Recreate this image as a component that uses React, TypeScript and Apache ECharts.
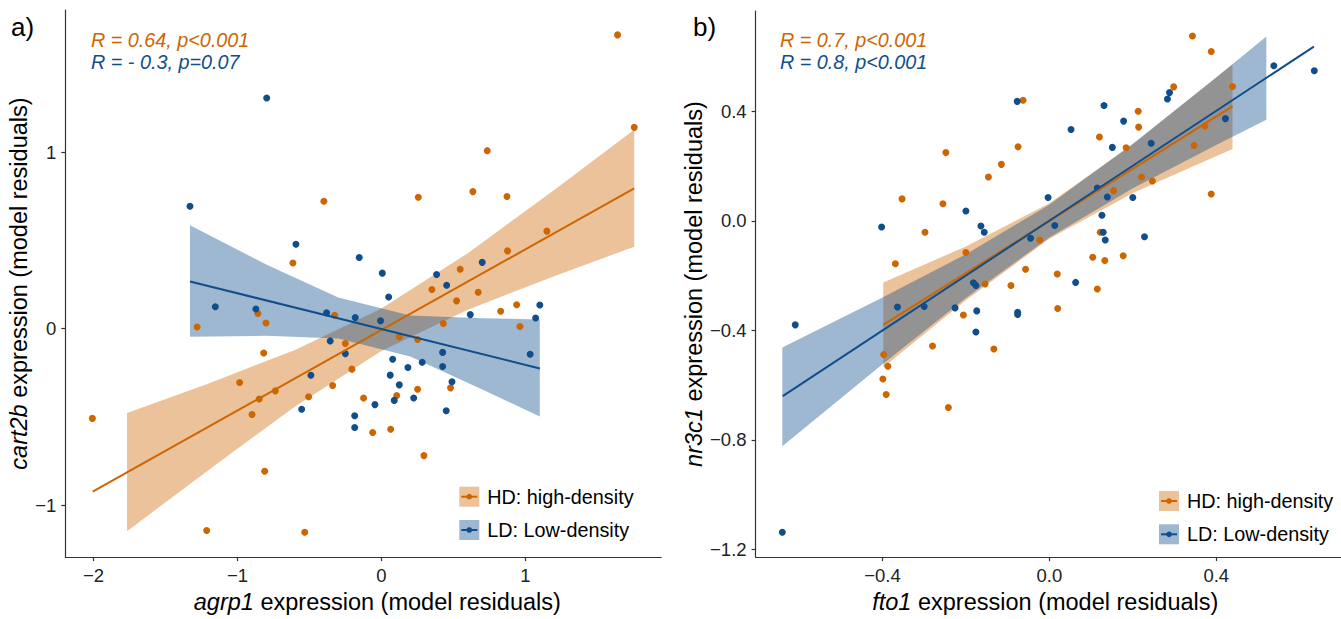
import React, { useEffect, useRef } from 'react';
import * as echarts from 'echarts';

const FONT = '"Liberation Sans", Arial, Helvetica, sans-serif';
const HD_COLOR = '#CD6600';
const LD_COLOR = '#104E8B';
const HD_FILL = 'rgba(205,102,0,0.4)';
const LD_FILL = 'rgba(16,78,139,0.4)';
const AXIS_COLOR = '#333333';
const TICK_TEXT = '#222222';

// ---------- Panel a: agrp1 vs cart2b ----------
const aHdX = [-2.008, -1.28, -1.214, -0.985, -0.899, -0.858, -0.849, -0.818, -0.811, -0.802, -0.737, -0.615, -0.533, -0.506, -0.40, -0.339, -0.325, -0.251, -0.205, -0.124, -0.061, 0.064, 0.106, 0.124, 0.251, 0.251, 0.256, 0.295, 0.351, 0.43, 0.48, 0.522, 0.547, 0.635, 0.672, 0.735, 0.828, 0.872, 0.876, 0.939, 0.962, 1.149, 1.64, 1.756];
const aHdY = [-0.508, 0.01, -1.143, -0.305, -0.486, 0.086, -0.398, -0.138, -0.808, 0.032, -0.352, 0.372, -1.153, -0.385, 0.722, -0.322, 0.076, -0.084, -0.229, -0.393, -0.588, -0.57, -0.378, -0.045, -0.061, -0.343, 0.745, -0.719, 0.222, 0.03, -0.335, 0.158, 0.337, 0.777, 0.207, 1.009, 0.099, 0.749, 0.441, 0.136, 0.013, 0.553, 1.665, 1.141];
const aLdX = [-1.33, -1.154, -0.872, -0.797, -0.594, -0.554, -0.49, -0.381, -0.356, -0.251, -0.186, -0.186, -0.182, -0.154, -0.045, -0.006, 0.006, 0.05, 0.061, 0.078, 0.089, 0.124, 0.184, 0.224, 0.283, 0.383, 0.425, 0.425, 0.45, 0.453, 0.49, 0.617, 0.70, 1.033, 1.071, 1.10];
const aLdY = [0.694, 0.125, 0.112, 1.307, 0.479, -0.456, -0.264, 0.091, -0.069, -0.141, -0.493, -0.56, 0.063, 0.404, -0.43, 0.045, 0.315, 0.18, -0.263, -0.173, -0.406, -0.318, -0.22, -0.393, -0.19, 0.307, -0.134, -0.214, -0.465, 0.246, -0.30, 0.08, 0.376, -0.145, 0.061, 0.134];

const aHdFitX = [-2.006, 1.756];
const aHdFitY = [-0.923, 0.795];
const aLdFitX = [-1.33, 1.10];
const aLdFitY = [0.268, -0.225];

const aHdBandX = [-1.767, -1.2, -0.6, 0, 0.6, 1.2, 1.756];
const aHdBandLo = [-1.147, -0.80, -0.44, -0.126, 0.108, 0.298, 0.465];
const aHdBandHi = [-0.477, -0.31, -0.12, 0.114, 0.428, 0.786, 1.127];
const aLdBandX = [-1.33, -0.8, -0.3, 0.2, 0.7, 1.10];
const aLdBandLo = [-0.046, -0.040, -0.055, -0.157, -0.344, -0.498];
const aLdBandHi = [0.586, 0.364, 0.177, 0.075, 0.060, 0.052];

const aXTicks = [-2, -1, 0, 1];
const aYTicks = [-1, 0, 1];
const aStats = ['R = 0.64, p<0.001', 'R = - 0.3, p=0.07'];

// ---------- Panel b: fto1 vs nr3c1 ----------
const bHdX = [-0.399, -0.397, -0.391, -0.387, -0.369, -0.353, -0.298, -0.28, -0.255, -0.248, -0.242, -0.206, -0.2, -0.154, -0.146, -0.133, -0.115, -0.092, -0.075, -0.063, -0.057, -0.023, 0.019, 0.02, 0.104, 0.115, 0.12, 0.122, 0.133, 0.154, 0.177, 0.184, 0.213, 0.214, 0.221, 0.247, 0.298, 0.343, 0.347, 0.373, 0.388, 0.388, 0.439];
const bHdY = [-0.578, -0.488, -0.634, -0.531, -0.157, 0.08, -0.042, -0.457, 0.062, 0.249, -0.682, -0.344, -0.116, -0.231, 0.16, -0.468, 0.206, -0.236, 0.27, 0.44, -0.177, -0.07, -0.194, -0.32, -0.133, -0.249, 0.306, -0.042, -0.145, 0.11, -0.128, 0.267, 0.40, 0.342, 0.16, 0.145, 0.489, 0.675, 0.275, 0.346, 0.618, 0.098, 0.49];
const bLdX = [-0.64, -0.609, -0.402, -0.364, -0.30, -0.226, -0.20, -0.182, -0.176, -0.176, -0.174, -0.164, -0.156, -0.077, -0.076, -0.076, -0.045, -0.003, 0.013, 0.052, 0.063, 0.115, 0.126, 0.129, 0.131, 0.134, 0.139, 0.151, 0.178, 0.20, 0.228, 0.244, 0.283, 0.288, 0.422, 0.538, 0.635];
const bLdY = [-1.137, -0.38, -0.023, -0.315, -0.313, -0.318, 0.036, -0.226, -0.236, -0.406, -0.329, -0.019, -0.042, 0.436, -0.334, -0.342, -0.064, 0.085, -0.017, 0.333, -0.225, 0.12, 0.02, -0.042, 0.421, -0.07, 0.087, 0.268, 0.364, 0.085, -0.058, 0.283, 0.445, 0.468, 0.373, 0.566, 0.548];

const bHdFitX = [-0.398, 0.439];
const bHdFitY = [-0.38, 0.418];
const bLdFitX = [-0.639, 0.634];
const bLdFitY = [-0.64, 0.636];

const bHdBandX = [-0.398, -0.2, 0, 0.2, 0.439];
const bHdBandLo = [-0.535, -0.290, -0.066, 0.101, 0.262];
const bHdBandHi = [-0.225, -0.094, 0.064, 0.279, 0.572];
const bLdBandX = [-0.64, -0.4, -0.2, 0, 0.2, 0.4, 0.52];
const bLdBandLo = [-0.823, -0.524, -0.282, -0.061, 0.119, 0.277, 0.369];
const bLdBandHi = [-0.463, -0.28, -0.122, 0.059, 0.281, 0.523, 0.673];

const bXTicks = [-0.4, 0, 0.4];
const bYTicks = [-1.2, -0.8, -0.4, 0, 0.4];
const bStats = ['R = 0.7, p<0.001', 'R = 0.8, p<0.001'];

const groupLabels = ['HD: high-density', 'LD: Low-density'];
const panelLabels = ['a)', 'b)'];

const fmt = (v: number, d: number) => {
  const s = Math.abs(v) < 1e-9 ? (0).toFixed(d) : v.toFixed(d);
  return s.replace('-', '\u2212');
};

const pairs = (xs: number[], ys: number[]) => xs.map((x, i) => [x, ys[i]]);

function scatter(idx: number, xs: number[], ys: number[], color: string) {
  return {
    type: 'scatter',
    xAxisIndex: idx,
    yAxisIndex: idx,
    data: pairs(xs, ys),
    symbol: 'circle',
    symbolSize: 7,
    itemStyle: { color, opacity: 1 },
    silent: true,
  };
}

function band(idx: number, bx: number[], lo: number[], hi: number[], fill: string) {
  return {
    type: 'custom',
    xAxisIndex: idx,
    yAxisIndex: idx,
    data: bx.map((x, i) => [x, lo[i], hi[i]]),
    encode: { x: 0, y: [1, 2] },
    silent: true,
    renderItem: (params: any, api: any) => {
      if (params.dataIndex !== 0) return { type: 'group', children: [] };
      const pts: number[][] = [];
      for (let i = 0; i < bx.length; i++) pts.push(api.coord([bx[i], hi[i]]));
      for (let i = bx.length - 1; i >= 0; i--) pts.push(api.coord([bx[i], lo[i]]));
      return { type: 'polygon', shape: { points: pts }, style: { fill, stroke: 'none' } };
    },
  };
}

function fit(idx: number, xs: number[], ys: number[], color: string) {
  return {
    type: 'line',
    xAxisIndex: idx,
    yAxisIndex: idx,
    data: pairs(xs, ys),
    showSymbol: false,
    symbol: 'none',
    lineStyle: { color, width: 2 },
    silent: true,
  };
}

function axisCommon(ticks: number[], d: number) {
  return {
    type: 'value',
    splitLine: { show: false },
    axisLine: { show: true, onZero: false, lineStyle: { color: AXIS_COLOR, width: 1.2 } },
    axisTick: { show: true, inside: false, length: 4, customValues: ticks, lineStyle: { color: AXIS_COLOR, width: 1.2 } },
    axisLabel: {
      customValues: ticks,
      formatter: (v: number) => fmt(v, d),
      color: TICK_TEXT,
      fontSize: 18.5,
      fontFamily: FONT,
      margin: 9,
    },
    nameLocation: 'middle',
  };
}

function titleStyle(padding: number[]) {
  return {
    fontSize: 23.5,
    fontFamily: FONT,
    color: '#000',
    padding,
    rich: { i: { fontSize: 23.5, fontFamily: FONT, color: '#000', fontStyle: 'italic' } },
  };
}

function legendItem(x: number, y: number, fill: string, color: string, label: string) {
  return {
    type: 'group',
    children: [
      { type: 'rect', shape: { x, y, width: 20, height: 20 }, style: { fill } },
      { type: 'line', shape: { x1: x + 2, y1: y + 10, x2: x + 18, y2: y + 10 }, style: { stroke: color, lineWidth: 2 } },
      { type: 'circle', shape: { cx: x + 10, cy: y + 10, r: 2.8 }, style: { fill: color } },
      {
        type: 'text',
        x: x + 28,
        y: y + 10,
        style: { text: label, font: `19.8px ${FONT}`, fill: '#000', textAlign: 'left', textVerticalAlign: 'middle', align: 'left', verticalAlign: 'middle' },
      },
    ],
  };
}

function textEl(x: number, y: number, text: string, color: string, font: string) {
  return {
    type: 'text',
    x,
    y,
    style: { text, font, fill: color, textAlign: 'left', textVerticalAlign: 'middle', align: 'left', verticalAlign: 'middle' },
  };
}

export default function App() {
  const ref = useRef<HTMLDivElement>(null);
  useEffect(() => {
    if (!ref.current) return;
    const chart = echarts.init(ref.current, null, { renderer: 'svg' });
    const statFont = `italic 19.8px ${FONT}`;
    chart.setOption({
      animation: false,
      backgroundColor: '#ffffff',
      grid: [
        { left: 65.3, top: 10, width: 596, height: 554.6 },
        { left: 755.6, top: 11, width: 585.7, height: 555.3 },
      ],
      xAxis: [
        { ...axisCommon(aXTicks, 0), gridIndex: 0, min: -2.196, max: 1.944, name: '{i|agrp1} expression (model residuals)', nameGap: 26, nameTextStyle: titleStyle([0, 0, 0, 28]) },
        { ...axisCommon(bXTicks, 1), gridIndex: 1, min: -0.704, max: 0.699, name: '{i|fto1} expression (model residuals)', nameGap: 26, nameTextStyle: titleStyle([0, 6, 0, 0]) },
      ],
      yAxis: [
        { ...axisCommon(aYTicks, 0), gridIndex: 0, min: -1.294, max: 1.806, name: '{i|cart2b} expression (model residuals)', nameGap: 29, nameTextStyle: titleStyle([0, 0, 0, 0]) },
        { ...axisCommon(bYTicks, 1), gridIndex: 1, min: -1.228, max: 0.766, name: '{i|nr3c1} expression (model residuals)', nameGap: 49, nameTextStyle: titleStyle([0, 0, 0, 0]) },
      ],
      series: [
        scatter(0, aHdX, aHdY, HD_COLOR),
        scatter(0, aLdX, aLdY, LD_COLOR),
        band(0, aHdBandX, aHdBandLo, aHdBandHi, HD_FILL),
        fit(0, aHdFitX, aHdFitY, HD_COLOR),
        band(0, aLdBandX, aLdBandLo, aLdBandHi, LD_FILL),
        fit(0, aLdFitX, aLdFitY, LD_COLOR),
        scatter(1, bHdX, bHdY, HD_COLOR),
        scatter(1, bLdX, bLdY, LD_COLOR),
        band(1, bHdBandX, bHdBandLo, bHdBandHi, HD_FILL),
        fit(1, bHdFitX, bHdFitY, HD_COLOR),
        band(1, bLdBandX, bLdBandLo, bLdBandHi, LD_FILL),
        fit(1, bLdFitX, bLdFitY, LD_COLOR),
      ],
      graphic: [
        textEl(11, 27, panelLabels[0], '#000', `26px ${FONT}`),
        textEl(693, 27, panelLabels[1], '#000', `26px ${FONT}`),
        textEl(91, 40, aStats[0], HD_COLOR, statFont),
        textEl(91, 62, aStats[1], LD_COLOR, statFont),
        textEl(780, 40, bStats[0], HD_COLOR, statFont),
        textEl(780, 62, bStats[1], LD_COLOR, statFont),
        legendItem(459.3, 486.7, HD_FILL, HD_COLOR, groupLabels[0]),
        legendItem(459.3, 520, LD_FILL, LD_COLOR, groupLabels[1]),
        legendItem(1159, 491, HD_FILL, HD_COLOR, groupLabels[0]),
        legendItem(1159, 524.3, LD_FILL, LD_COLOR, groupLabels[1]),
      ],
    });
    return () => chart.dispose();
  }, []);
  return (
    <div
      ref={ref}
      style={{ position: 'fixed', left: 0, top: 0, width: '1341px', height: '619px', background: '#fff' }}
    />
  );
}
